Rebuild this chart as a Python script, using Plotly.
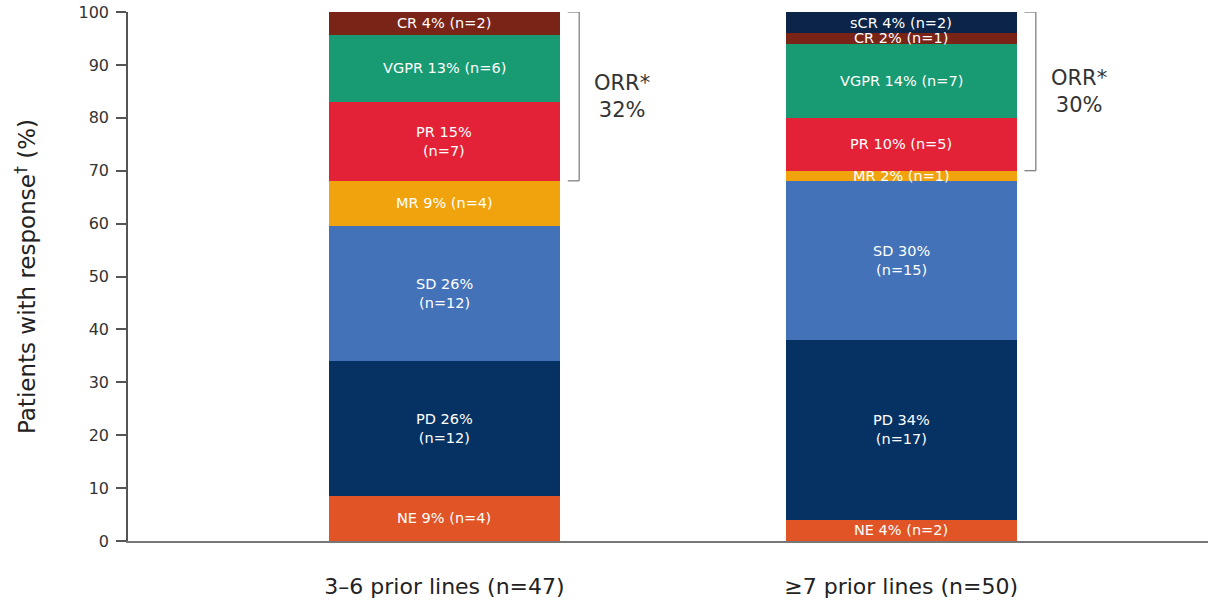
import plotly.graph_objects as go

# Response categories, bottom of the stack first
responses = ["NE", "PD", "SD", "MR", "PR", "VGPR", "CR", "sCR"]
colors = ["#E15426", "#063263", "#4372B8", "#F0A30D", "#E32237", "#189A72", "#7A2418", "#0B2447"]

groups = ["3–6 prior lines (n=47)", "≥7 prior lines (n=50)"]
group_totals = [47, 50]

# Patient counts per response category, one list per group
counts_3_6 = [4, 12, 12, 4, 7, 6, 2, 0]
counts_7plus = [2, 17, 15, 1, 5, 7, 1, 2]
counts = [counts_3_6, counts_7plus]

# Categories that make up the overall response rate
orr_responses = ["PR", "VGPR", "CR", "sCR"]

# Labels shown on two lines
two_line = [{"PR", "SD", "PD"}, {"SD", "PD"}]

ytick_vals = list(range(0, 101, 10))

FONT = "DejaVu Sans"
BAR_W = 0.506

fig = go.Figure()
annotations = []
shapes = []

pct = [[c / tot * 100 for c in grp] for grp, tot in zip(counts, group_totals)]

for k, resp in enumerate(responses):
    ys = [pct[g][k] for g in range(2)]
    fig.add_trace(go.Bar(
        x=[0, 1], y=ys, name=resp, width=BAR_W,
        marker=dict(color=colors[k], line=dict(width=0)),
        hoverinfo="skip", showlegend=False,
    ))

for g in range(2):
    base = 0.0
    for k, resp in enumerate(responses):
        n = counts[g][k]
        p = pct[g][k]
        if n > 0:
            sep = "<br>" if resp in two_line[g] else " "
            annotations.append(dict(
                x=g, y=base + p / 2, xref="x", yref="y",
                text=f"{resp} {p:.0f}%{sep}(n={n})", showarrow=False,
                font=dict(family=FONT, size=14.5, color="white"),
                align="center",
            ))
        base += p
    # ORR bracket spanning the responding categories
    orr_idx = [responses.index(r) for r in orr_responses]
    lo = sum(pct[g][:min(orr_idx)])
    hi = sum(pct[g][:max(orr_idx) + 1])
    orr = sum(pct[g][i] for i in orr_idx)
    xa, xb = g + 0.27, g + 0.295
    line = dict(color="#777777", width=1.2)
    shapes += [
        dict(type="line", xref="x", yref="y", x0=xa, x1=xb, y0=lo, y1=lo, line=line),
        dict(type="line", xref="x", yref="y", x0=xb, x1=xb, y0=lo, y1=hi, line=line),
        dict(type="line", xref="x", yref="y", x0=xa, x1=xb, y0=hi, y1=hi, line=line),
    ]
    annotations.append(dict(
        x=g + 0.389, y=(lo + hi) / 2, xref="x", yref="y", yanchor="middle",
        text=f"ORR*<br>{orr:.0f}%", showarrow=False,
        font=dict(family=FONT, size=21, color="#333333"), align="center",
    ))

fig.update_layout(
    barmode="stack",
    width=1210, height=603,
    margin=dict(l=128, r=2, t=12, b=62),
    paper_bgcolor="white", plot_bgcolor="white",
    font=dict(family=FONT, color="#333333"),
    annotations=annotations, shapes=shapes,
    xaxis=dict(
        range=[-0.693, 1.672], tickvals=[0, 1], ticktext=groups,
        tickfont=dict(family=FONT, size=22, color="#222222"),
        showline=True, linecolor="#777777", linewidth=1.5,
        ticks="", showgrid=False, zeroline=False, ticklabelstandoff=25,
    ),
    yaxis=dict(
        range=[0, 100], tickvals=ytick_vals,
        tickfont=dict(family=FONT, size=16, color="#333333"),
        showline=True, linecolor="#555555", linewidth=1.5,
        ticks="outside", ticklen=10, tickcolor="#555555", tickwidth=1.5,
        ticklabelstandoff=4,
        showgrid=False, zeroline=False,
        title=dict(text="Patients with response<sup>†</sup> (%)",
                   font=dict(family=FONT, size=23, color="#222222"), standoff=36),
    ),
)

fig.write_html("out.html")
